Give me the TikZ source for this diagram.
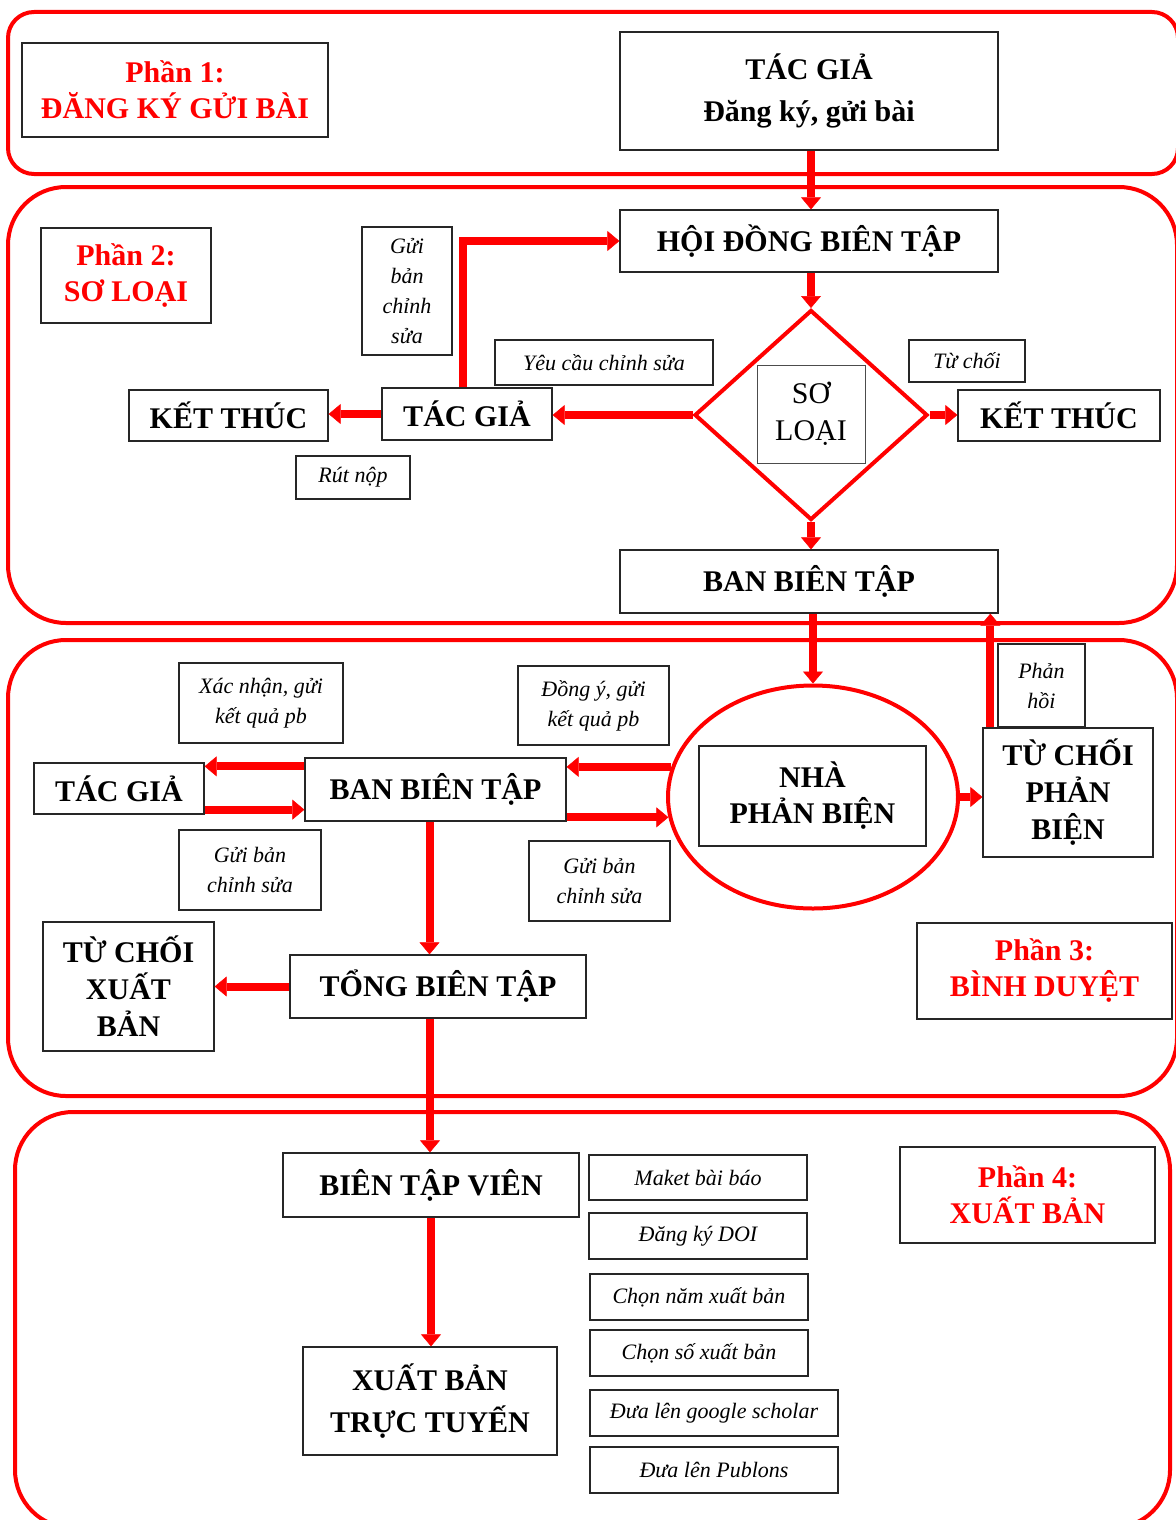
\documentclass[tikz,border=0pt]{standalone}
\usepackage{fontspec}
\setmainfont{Liberation Serif}
\usetikzlibrary{arrows.meta,shapes.geometric}

\tikzset{
  panel/.style={draw=red, line width=4pt, rounded corners=58pt},
  sz/.style 2 args={minimum width=#1pt, minimum height=#2pt},
  box/.style={draw=black!85, line width=1.3pt, inner sep=0pt, align=center,
    font=\fontsize{30}{37}\selectfont\bfseries},
  titlebox/.style={box, text=red, font=\fontsize{30}{36}\selectfont\bfseries},
  note/.style={draw=black!85, line width=1.3pt, inner sep=0pt, align=center,
    font=\fontsize{22}{30}\selectfont\itshape},
  flow/.style={draw=red, line width=8pt, -{Triangle[width=20pt,length=12pt,line width=0.5pt]}},
}

\begin{document}
\begin{tikzpicture}[x=1pt, y=-1pt]
			%%%%% START %%%%%
			\useasboundingbox (0,0) rectangle (1175,1520);
			
			\draw[panel, rounded corners=26pt] (8,12) rectangle (1178,174);
			\draw[panel] (8,187) rectangle (1177,623);
			\draw[panel] (8,640) rectangle (1177,1096);
			\draw[panel] (15,1112) rectangle (1170,1528);
			
			% phan 1
			\node[titlebox, sz={306}{94}] (p1) at (175,90) {Phần 1:\\ĐĂNG KÝ GỬI BÀI};
			\node[box, sz={378}{118}, font=\fontsize{30}{42}\selectfont\bfseries] (tg1) at (809,91) {TÁC GIẢ\\Đăng ký, gửi bài};
			
			% phan 2
			\node[titlebox, sz={170}{95}] (p2) at (126,275.5) {Phần 2:\\SƠ LOẠI};
			\node[box, sz={378}{62}] (hd) at (809,241) {HỘI ĐỒNG BIÊN TẬP};
			\node[note, sz={90}{128}] (guiA) at (407,291) {Gửi\\bản\\chỉnh\\sửa};
			\node[note, sz={218}{45}] (ycs) at (604,362.5) {Yêu cầu chỉnh sửa};
			\node[note, sz={116}{42}] (tc) at (967,361) {Từ chối};
			\node[box, sz={199}{51}] (kt1) at (228.5,415.5) {KẾT THÚC};
			\node[box, sz={170}{52}] (tg2) at (467,414) {TÁC GIẢ};
			\node[draw=red, line width=4pt, shape=diamond, inner sep=0pt, sz={233}{210}] (sl) at (811,415) {};
			\node[draw=black!70, line width=1pt, inner sep=0pt, align=center, sz={108}{98},
			  font=\fontsize{30}{37}\selectfont] (slx) at (811,414) {SƠ\\LOẠI};
			\node[box, sz={202}{51}] (kt2) at (1059,415.5) {KẾT THÚC};
			\node[note, sz={114}{43}] (rut) at (353,477.5) {Rút nộp};
			\node[box, sz={378}{63}] (bbt1) at (809,581.5) {BAN BIÊN TẬP};
			
			\draw[flow] (tg1.south -| sl.north) -- (sl.north |- hd.north);
			\draw[flow] (sl.north |- hd.south) -- (sl.north);
			\draw[flow] (sl.west) -- (sl.west -| tg2.east);
			\draw[flow] (tg2.west) -- (tg2.west -| kt1.east);
			\draw[flow] ([xshift=-4pt]tg2.north) |- (hd.west);
			\draw[flow] (sl.east) -- (sl.east -| kt2.west);
			\draw[flow] (sl.south) -- (sl.south |- bbt1.north);
			
			% phan 3
			\node[note, sz={164}{80}] (xn) at (261,703) {Xác nhận, gửi\\kết quả pb};
			\node[note, sz={151}{79}] (dy) at (593.5,705.5) {Đồng ý, gửi\\kết quả pb};
			\node[box, sz={170}{51}] (tg3) at (119,788.5) {TÁC GIẢ};
			\node[box, sz={261}{63}] (bbt2) at (435.5,789.5) {BAN BIÊN TẬP};
			\node[draw=red, line width=4pt, shape=ellipse, inner sep=0pt, sz={290}{223}] (npb) at (813,797) {};
			\node[box, sz={227}{100}, font=\fontsize{30}{36}\selectfont\bfseries] (npbx) at (812.5,796) {NHÀ\\PHẢN BIỆN};
			\node[note, sz={87}{83}] (ph) at (1041.5,685.5) {Phản\\hồi};
			\node[box, sz={170}{129}] (tcpb) at (1068,792.5) {TỪ CHỐI\\PHẢN\\BIỆN};
			\node[note, sz={142}{80}] (guiB) at (250,870) {Gửi bản\\chỉnh sửa};
			\node[note, sz={141}{80}] (guiC) at (599.5,881) {Gửi bản\\chỉnh sửa};
			\node[box, sz={171}{129}] (tcxb) at (128.5,986.5) {TỪ CHỐI\\XUẤT\\BẢN};
			\node[box, sz={296}{63}] (tbt) at (438,986.5) {TỔNG BIÊN TẬP};
			\node[titlebox, sz={255}{96}] (p3) at (1044.5,971) {Phần 3:\\BÌNH DUYỆT};
			
			\draw[flow] (bbt1.south -| npb.north) -- (npb.north);
			\draw[flow] ([xshift=8pt]tcpb.north west) -- ([xshift=8pt]tcpb.north west |- bbt1.south);
			\draw[flow] ([yshift=-9pt]bbt2.north west) -- ([yshift=-9pt]bbt2.north west -| tg3.east);
			\draw[flow] ([yshift=12pt]bbt2.south west -| tg3.east) -- ([yshift=12pt]bbt2.south west);
			\draw[flow] (npb.168) -- (npb.168 -| bbt2.east);
			\draw[flow] (npb.188 -| bbt2.east) -- (npb.188);
			\draw[flow] (npb.east) -- (npb.east -| tcpb.west);
			\draw[flow] ([xshift=-6pt]bbt2.south) -- ([xshift=-6pt]bbt2.south |- tbt.north);
			\draw[flow] (tbt.west) -- (tcxb.east);
			
			% phan 4
			\node[box, sz={296}{64}] (btv) at (431,1185) {BIÊN TẬP VIÊN};
			\node[box, sz={254}{108}, font=\fontsize{30}{42}\selectfont\bfseries] (xbtt) at (430,1401) {XUẤT BẢN\\TRỰC TUYẾN};
			\node[note, sz={218}{45}] (mk) at (698,1177.5) {Maket bài báo};
			\node[note, sz={218}{46}] (doi) at (698,1236) {Đăng ký DOI};
			\node[note, sz={218}{46}] (nam) at (699,1297) {Chọn năm xuất bản};
			\node[note, sz={218}{46}] (so) at (699,1353) {Chọn số xuất bản};
			\node[note, sz={248}{46}] (gs) at (714,1413) {Đưa lên google scholar};
			\node[note, sz={248}{46}] (pub) at (714,1470) {Đưa lên Publons};
			\node[titlebox, sz={255}{96}] (p4) at (1027.5,1195) {Phần 4:\\XUẤT BẢN};
			
			\draw[flow] ([xshift=-8pt]tbt.south) -- ([xshift=-8pt]tbt.south |- btv.north);
			\draw[flow] (btv.south) -- (btv.south |- xbtt.north);
			%%%%% END %%%%%
\end{tikzpicture}
\end{document}
